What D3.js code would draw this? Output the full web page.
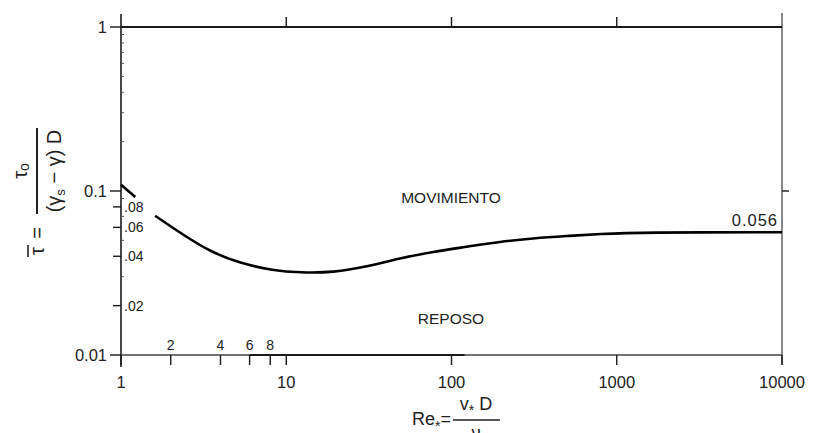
<!DOCTYPE html>
<html>
<head>
<meta charset="utf-8">
<script src="https://cdn.jsdelivr.net/npm/d3@7"></script>
<style>
    html, body { margin: 0; padding: 0; background: #fff; }
    svg { display: block; font-family: "Liberation Sans", Arial, sans-serif; }
</style>
</head>
<body>
<svg id="chart" width="814" height="433"></svg>
<script>
// Shields curve
var reValues = [1.61, 2.38, 3.46, 5.25, 8.35, 12.1, 19.3, 30.7, 48.8, 77.6, 124, 196, 311, 498, 792, 1380, 10000];
var tauValues = [0.0706, 0.054, 0.0427, 0.0362, 0.0327, 0.0318, 0.0318, 0.0345, 0.0389, 0.0427, 0.0457, 0.0491, 0.0515, 0.0532, 0.0547, 0.056, 0.056];
// short leading piece near Re = 1
var reStart = [1.0, 1.22];
var tauStart = [0.109, 0.092];

var xMajor = [1, 10, 100, 1000, 10000];
var xMajorLabels = ['1', '10', '100', '1000', '10000'];
var xMinor = [2, 4, 6, 8];
var xMinorLabels = ['2', '4', '6', '8'];
var yMajor = [1, 0.1, 0.01];
var yMajorLabels = ['1', '0.1', '0.01'];
var yMinor = [0.08, 0.06, 0.04, 0.02];
var yMinorLabels = ['.08', '.06', '.04', '.02'];
var yFine = [0.09, 0.07, 0.05, 0.03, 0.2, 0.3, 0.4, 0.5, 0.6, 0.7, 0.8, 0.9];

var svg = d3.select('#chart');
var ink = '#1a1a1a';

var x = d3.scaleLog().domain([1, 10000]).range([121, 782]);
var y = d3.scaleLog().domain([0.01, 1]).range([355, 27]);

// frame: left and right axes, the y=1 line and the y=0.01 line
svg.append('line')
    .attr('x1', x(1)).attr('x2', x(1))
    .attr('y1', 14).attr('y2', y(0.01) + 12)
    .attr('stroke', ink).attr('stroke-width', 1.6);
svg.append('line')
    .attr('x1', x(10000)).attr('x2', x(10000))
    .attr('y1', 13).attr('y2', y(0.01) + 10)
    .attr('stroke', '#555').attr('stroke-width', 1.4);
svg.append('line')
    .attr('x1', x(1)).attr('x2', x(10000))
    .attr('y1', y(1)).attr('y2', y(1))
    .attr('stroke', ink).attr('stroke-width', 2);
svg.append('line')
    .attr('x1', x(1)).attr('x2', x(10000))
    .attr('y1', y(0.01)).attr('y2', y(0.01))
    .attr('stroke', '#444').attr('stroke-width', 1.4);
// darker stretch of the base line
svg.append('line')
    .attr('x1', x(6)).attr('x2', x(120))
    .attr('y1', y(0.01)).attr('y2', y(0.01))
    .attr('stroke', ink).attr('stroke-width', 2.2);

// bottom ticks
svg.selectAll('.xtick')
    .data(xMajor.concat(xMinor))
    .enter().append('line')
    .attr('class', 'xtick')
    .attr('x1', function (d) { return x(d); })
    .attr('x2', function (d) { return x(d); })
    .attr('y1', y(0.01))
    .attr('y2', y(0.01) + 10)
    .attr('stroke', ink).attr('stroke-width', 1.4);

// top ticks
svg.selectAll('.ttick')
    .data([10, 100, 1000])
    .enter().append('line')
    .attr('class', 'ttick')
    .attr('x1', function (d) { return x(d); })
    .attr('x2', function (d) { return x(d); })
    .attr('y1', y(1))
    .attr('y2', y(1) - 10)
    .attr('stroke', ink).attr('stroke-width', 1.4);

// left ticks
svg.selectAll('.ytick')
    .data(yMajor)
    .enter().append('line')
    .attr('class', 'ytick')
    .attr('x1', x(1) - 11).attr('x2', x(1))
    .attr('y1', function (d) { return y(d); })
    .attr('y2', function (d) { return y(d); })
    .attr('stroke', ink).attr('stroke-width', 1.4);
svg.selectAll('.ymtick')
    .data(yMinor)
    .enter().append('line')
    .attr('class', 'ymtick')
    .attr('x1', x(1) - 8).attr('x2', x(1))
    .attr('y1', function (d) { return y(d); })
    .attr('y2', function (d) { return y(d); })
    .attr('stroke', ink).attr('stroke-width', 1.4);
svg.selectAll('.yftick')
    .data(yFine)
    .enter().append('line')
    .attr('class', 'yftick')
    .attr('x1', x(1)).attr('x2', x(1) + 3)
    .attr('y1', function (d) { return y(d); })
    .attr('y2', function (d) { return y(d); })
    .attr('stroke', '#555').attr('stroke-width', 1);

// right tick at 0.1
svg.append('line')
    .attr('x1', x(10000)).attr('x2', x(10000) + 7)
    .attr('y1', y(0.1)).attr('y2', y(0.1))
    .attr('stroke', ink).attr('stroke-width', 1.4);

// tick labels
svg.selectAll('.xlab')
    .data(xMajor)
    .enter().append('text')
    .attr('class', 'xlab')
    .attr('x', function (d) { return x(d); })
    .attr('y', 388)
    .attr('text-anchor', 'middle')
    .attr('font-size', 16.5)
    .attr('fill', '#222')
    .text(function (d, i) { return xMajorLabels[i]; });
svg.selectAll('.xmlab')
    .data(xMinor)
    .enter().append('text')
    .attr('class', 'xmlab')
    .attr('x', function (d) { return x(d); })
    .attr('y', y(0.01) - 5)
    .attr('text-anchor', 'middle')
    .attr('font-size', 14)
    .attr('fill', '#222')
    .text(function (d, i) { return xMinorLabels[i]; });
svg.selectAll('.ylab')
    .data(yMajor)
    .enter().append('text')
    .attr('class', 'ylab')
    .attr('x', x(1) - 14)
    .attr('y', function (d) { return y(d) + 6; })
    .attr('text-anchor', 'end')
    .attr('font-size', 16.5)
    .attr('fill', '#222')
    .text(function (d, i) { return yMajorLabels[i]; });
svg.selectAll('.ymlab')
    .data(yMinor)
    .enter().append('text')
    .attr('class', 'ymlab')
    .attr('x', x(1) + 3)
    .attr('y', function (d) { return y(d) + 5; })
    .attr('font-size', 14)
    .attr('fill', '#222')
    .text(function (d, i) { return yMinorLabels[i]; });

// the curve
var line = d3.line()
    .x(function (d) { return x(d[0]); })
    .y(function (d) { return y(d[1]); })
    .curve(d3.curveBasis);

svg.append('path')
    .datum(d3.zip(reStart, tauStart))
    .attr('d', line)
    .attr('fill', 'none')
    .attr('stroke', '#000')
    .attr('stroke-width', 2.6);
svg.append('path')
    .datum(d3.zip(reValues, tauValues))
    .attr('d', line)
    .attr('fill', 'none')
    .attr('stroke', '#000')
    .attr('stroke-width', 2.6);

// region labels
svg.append('text')
    .attr('x', 451).attr('y', 203)
    .attr('text-anchor', 'middle')
    .attr('font-size', 15.5)
    .attr('fill', '#222')
    .text('MOVIMIENTO');
svg.append('text')
    .attr('x', 451).attr('y', 324)
    .attr('text-anchor', 'middle')
    .attr('font-size', 15.5)
    .attr('fill', '#222')
    .text('REPOSO');
svg.append('text')
    .attr('x', 778).attr('y', 226)
    .attr('text-anchor', 'end')
    .attr('font-size', 16.5)
    .attr('letter-spacing', 1)
    .attr('fill', '#222')
    .text('0.056');

// y axis title, rotated
var yt = svg.append('g')
    .attr('transform', 'translate(37,171) rotate(-90)')
    .attr('fill', '#222')
    .attr('font-size', 20);
yt.append('line')
    .attr('x1', -43).attr('x2', 43)
    .attr('y1', 0).attr('y2', 0)
    .attr('stroke', '#222').attr('stroke-width', 2);
var num = yt.append('text')
    .attr('x', 0).attr('y', -10)
    .attr('text-anchor', 'middle');
num.append('tspan').text('τ');
num.append('tspan').attr('font-size', 14).attr('dy', 2).text('o');
var den = yt.append('text')
    .attr('x', 0).attr('y', 24)
    .attr('text-anchor', 'middle');
den.append('tspan').text('(γ');
den.append('tspan').attr('font-size', 13).attr('dy', 4).text('s');
den.append('tspan').attr('dy', -4).text(' − γ) D');
yt.append('text')
    .attr('x', -56).attr('y', 7)
    .attr('text-anchor', 'end')
    .text('=');
yt.append('text')
    .attr('x', -80).attr('y', 7)
    .attr('text-anchor', 'middle')
    .text('τ');
yt.append('line')
    .attr('x1', -86).attr('x2', -74)
    .attr('y1', -9).attr('y2', -9)
    .attr('stroke', '#222').attr('stroke-width', 1.6);

// x axis title
var xt = svg.append('g')
    .attr('fill', '#222')
    .attr('font-size', 18);
var re = xt.append('text')
    .attr('x', 451).attr('y', 425)
    .attr('text-anchor', 'end');
re.append('tspan').text('Re');
re.append('tspan').attr('font-size', 14).attr('dy', 6).text('*');
re.append('tspan').attr('dy', -6).text('=');
xt.append('line')
    .attr('x1', 453).attr('x2', 500)
    .attr('y1', 420).attr('y2', 420)
    .attr('stroke', '#222').attr('stroke-width', 1.4);
var vn = xt.append('text')
    .attr('x', 476).attr('y', 410)
    .attr('text-anchor', 'middle');
vn.append('tspan').text('v');
vn.append('tspan').attr('font-size', 14).attr('dy', 5).text('*');
vn.append('tspan').attr('dy', -5).text(' D');
xt.append('text')
    .attr('x', 476).attr('y', 439)
    .attr('text-anchor', 'middle')
    .text('ν');
</script>
</body>
</html>
